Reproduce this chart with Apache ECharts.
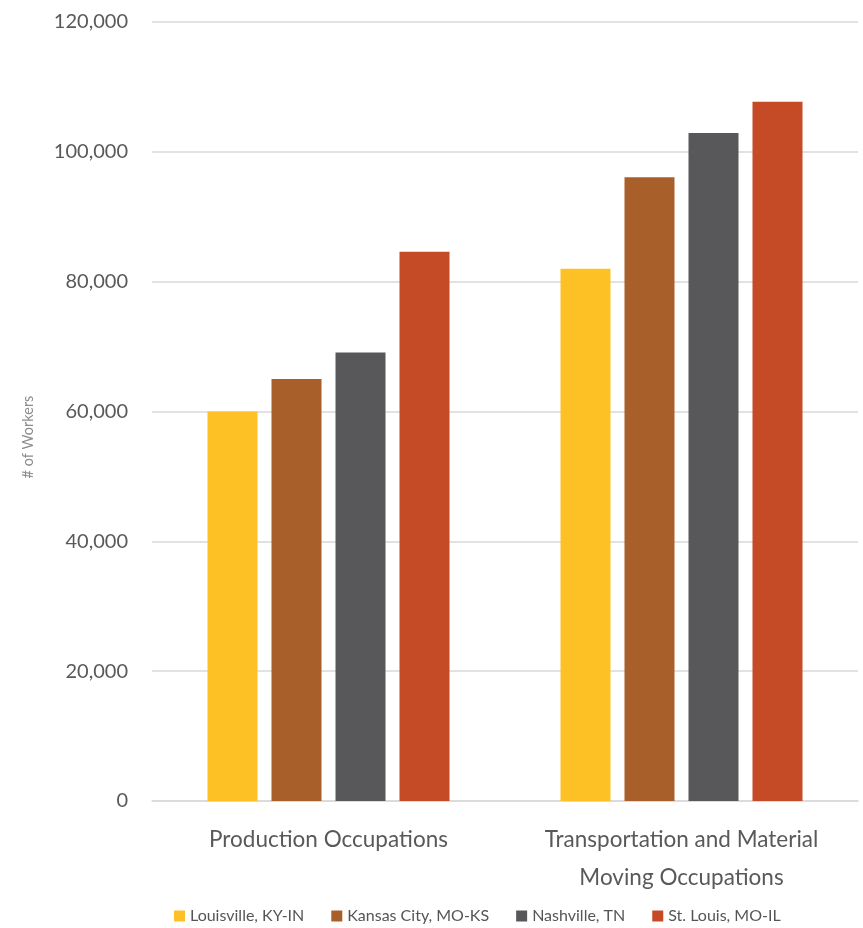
<!DOCTYPE html>
<html>
<head>
<meta charset="utf-8">
<script src="https://cdn.jsdelivr.net/npm/echarts@6/dist/echarts.min.js"></script>
<style>
  html, body { margin: 0; padding: 0; background: #fff; }
  #chart { width: 863px; height: 928px; }
</style>
</head>
<body>
<div id="chart"></div>
<script>
// Occupation groups on the x axis
const categories = ['Production Occupations', 'Transportation and Material\nMoving Occupations'];

// Metro areas (one series each)
const metros = ['Louisville, KY-IN', 'Kansas City, MO-KS', 'Nashville, TN', 'St. Louis, MO-IL'];

// Number of workers per metro, per occupation group
const louisville = [60000, 82000];
const kansasCity = [65000, 96100];
const nashville = [69100, 102900];
const stLouis = [84600, 107700];

const yTicks = { min: 0, max: 120000, interval: 20000 };
const yTitle = '# of Workers';
const colors = ['#FDC125', '#A95F29', '#58585A', '#C54B27'];

const seriesValues = [louisville, kansasCity, nashville, stLouis];

const chart = echarts.init(document.getElementById('chart'));
chart.setOption({
  animation: false,
  color: colors,
  textStyle: { fontFamily: 'Lato, "Open Sans", sans-serif' },
  grid: { left: 152, right: 5, top: 22, bottom: 127, containLabel: false },
  legend: {
    top: 903,
    left: 169,
    padding: 5,
    itemWidth: 11,
    itemHeight: 11,
    itemGap: 27,
    icon: 'rect',
    textStyle: { fontSize: 16, color: '#555', fontFamily: 'Lato, sans-serif' },
    data: metros
  },
  graphic: [{
    type: 'text',
    x: 28,
    y: 437,
    rotation: Math.PI / 2,
    style: {
      text: yTitle,
      fill: '#8c8c8c',
      font: '14.5px Lato, sans-serif',
      align: 'center',
      verticalAlign: 'middle'
    }
  }],
  xAxis: {
    type: 'category',
    data: categories,
    axisLine: { show: true, lineStyle: { color: '#d9d9d9', width: 1.5 } },
    axisTick: { show: false },
    axisLabel: {
      interval: 0,
      fontSize: 22.5,
      color: '#595959',
      margin: 20,
      lineHeight: 38,
      fontFamily: 'Lato, sans-serif'
    }
  },
  yAxis: {
    type: 'value',
    min: yTicks.min,
    max: yTicks.max,
    interval: yTicks.interval,
    axisLine: { show: false },
    axisTick: { show: false },
    splitLine: { lineStyle: { color: '#d9d9d9', width: 1.5 } },
    axisLabel: {
      fontSize: 20,
      color: '#595959',
      margin: 24,
      fontFamily: 'Lato, sans-serif',
      formatter: v => v.toLocaleString('en-US')
    }
  },
  series: metros.map((name, i) => ({
    name,
    type: 'bar',
    data: seriesValues[i],
    barWidth: 50,
    barGap: '28%'
  }))
});
</script>
</body>
</html>
